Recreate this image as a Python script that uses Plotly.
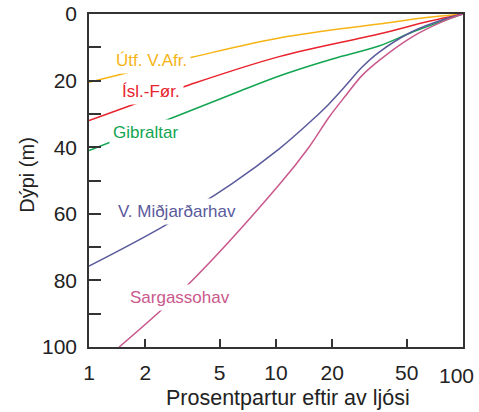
import plotly.graph_objects as go

# Data (x = % light remaining, y = depth in m)
utf_x = [1, 3.55, 10.4, 35.5, 65.8, 100]
utf_y = [20.5, 13.0, 7.2, 3.0, 1.0, 0]

isl_x = [1, 3.43, 10.4, 35.5, 65.8, 100]
isl_y = [32.0, 21.3, 12.8, 6.0, 2.2, 0]

gib_x = [1, 3, 6, 10.4, 20, 35.5, 55, 100]
gib_y = [41.0, 30.5, 23.8, 18.6, 13.5, 9.6, 5.2, 0]

mid_x = [1, 2.46, 5.8, 10.4, 15.5, 19.2, 23.6, 28.8, 35.5, 53, 80, 100]
mid_y = [75.7, 64.0, 51.0, 40.5, 32.0, 27.0, 21.5, 16.0, 11.5, 5.4, 1.5, 0]

sar_x = [1.45, 3.29, 10.5, 15, 19.2, 23.6, 28.8, 35.5, 53, 80, 100]
sar_y = [100, 82.0, 51.0, 40.0, 31.0, 24.5, 18.5, 14.0, 7.0, 2.0, 0]

series = [
    ("Útf. V.Afr.", utf_x, utf_y, "#F5B414", 0.334, 14.1),
    ("Ísl.-Før.", isl_x, isl_y, "#E8232D", 0.332, 23.4),
    ("Gibraltar", gib_x, gib_y, "#12A551", 0.305, 35.6),
    ("V. Miðjarðarhav", mid_x, mid_y, "#5A5A9C", 0.468, 59.3),
    ("Sargassohav", sar_x, sar_y, "#C9588C", 0.489, 85.2),
]

x_ticks = [1, 2, 5, 10, 20, 50, 100]
x_labels = ["1", "2", "5", "10", "20", "50", ""]  # last label placed separately so it stays inside the page
y_ticks = list(range(0, 101, 10))
y_labels = [str(v) if v % 20 == 0 else "" for v in y_ticks]

fig = go.Figure()
annotations = []
for name, xs, ys, col, lx, ly in series:
    fig.add_trace(go.Scatter(x=xs, y=ys, mode="lines", line=dict(color=col, width=1.5, shape="spline", smoothing=1.0),
                             showlegend=False, name=name))
    annotations.append(dict(x=lx, y=ly, xref="x", yref="y", text=name, showarrow=False,
                            font=dict(family="Liberation Sans, Arial", size=17, color=col),
                            bgcolor="white", borderpad=3, xanchor="center", yanchor="middle"))

annotations.append(dict(x=0.983, y=-0.085, xref="paper", yref="paper", text="100",
                        showarrow=False, font=dict(family="Liberation Sans, Arial", size=21, color="#222"),
                        xanchor="center", yanchor="middle"))
annotations.append(dict(x=0.531, y=-0.153, xref="paper", yref="paper", text="Prosentpartur eftir av ljósi",
                        showarrow=False, font=dict(family="Liberation Sans, Arial", size=21.5, color="#222"),
                        xanchor="center", yanchor="middle"))
annotations.append(dict(x=-0.166, y=0.517, xref="paper", yref="paper", text="Dýpi (m)", textangle=-90,
                        showarrow=False, font=dict(family="Liberation Sans, Arial", size=20, color="#222"),
                        xanchor="center", yanchor="middle"))

fig.update_layout(
    width=479, height=412,
    margin=dict(l=89, r=16, t=14, b=65, autoexpand=False),
    plot_bgcolor="white", paper_bgcolor="white",
    annotations=annotations,
    font=dict(family="Liberation Sans, Arial", size=21, color="#222"),
)
fig.update_xaxes(type="log", range=[0, 2], tickvals=x_ticks, ticktext=x_labels,
                 ticks="inside", ticklen=8, tickwidth=1.5, tickcolor="#333",
                 showline=True, linecolor="#333", linewidth=1.5, mirror=True,
                 showgrid=False, zeroline=False, ticklabelstandoff=6,
                 automargin=False, ticklabeloverflow="allow")
fig.update_yaxes(range=[100, 0], tickvals=y_ticks, ticktext=y_labels,
                 ticks="inside", ticklen=12, tickwidth=1.5, tickcolor="#333",
                 showline=True, linecolor="#333", linewidth=1.5, mirror=True,
                 showgrid=False, zeroline=False, ticklabelstandoff=6,
                 automargin=False, ticklabeloverflow="allow")

fig.write_html("out.html")
